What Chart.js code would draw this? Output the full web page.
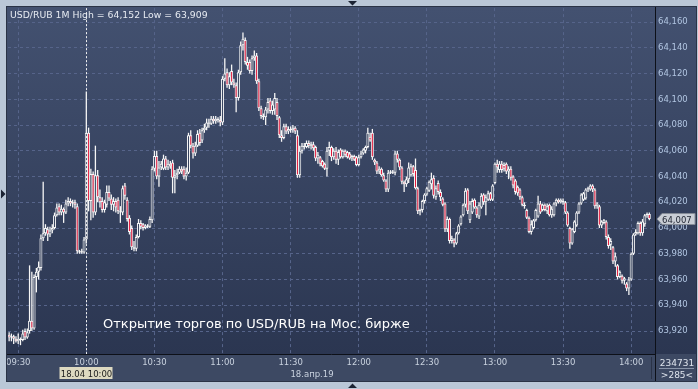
<!DOCTYPE html>
<html>
<head>
<meta charset="utf-8">
<title>USD/RUB 1M</title>
<script src="https://cdn.jsdelivr.net/npm/chart.js@4.4.1/dist/chart.umd.min.js"></script>
<style>
  html, body { margin: 0; padding: 0; background: #bac7d7; }
  canvas { display: block; }
</style>
</head>
<body>
<canvas id="rubChart" width="698" height="389"></canvas>
<script>
// one bar per minute, 09:26 .. 14:10
const firstBar = 9 * 60 + 26;
const barCount = 285;

const timeTicks = ['09:30', '10:00', '10:30', '11:00', '11:30', '12:00', '12:30', '13:00', '13:30', '14:00'];
const priceTicks = [63920, 63940, 63960, 63980, 64000, 64020, 64040, 64060, 64080, 64100, 64120, 64140, 64160];

// prices in thousandths of a rouble (64,007 = 64.007)
const opens = [
  63917,63915,63916,63914,63912,63914,63913,63920,63915,63920,
  63928,63922,63962,63966,63969,63992,63996,63999,63995,63998,
  64000,64010,64017,64012,64015,64012,64019,64021,64019,64020,
  64017,63982,63981,63981,63991,64074,64021,64042,64012,64041,
  64024,64021,64014,64018,64028,64023,64018,64021,64022,64013,
  64012,64033,64022,64008,64000,63985,63984,63993,64004,64003,
  64000,64002,64001,64006,64046,64056,64040,64047,64046,64054,
  64047,64050,64051,64039,64041,64043,64046,64046,64040,64043,
  64072,64064,64058,64064,64074,64068,64076,64078,64082,64081,
  64085,64083,64085,64084,64082,64116,64121,64111,64122,64113,
  64111,64101,64121,64142,64146,64129,64129,64122,64132,64134,
  64114,64093,64087,64086,64092,64099,64091,64092,64098,64086,
  64072,64070,64079,64075,64077,64076,64078,64072,64041,64060,
  64064,64063,64066,64064,64065,64063,64054,64055,64052,64050,
  64046,64060,64063,64055,64060,64053,64061,64055,64060,64059,
  64058,64054,64056,64055,64049,64055,64058,64060,64063,64071,
  64074,64053,64051,64044,64046,64041,64037,64030,64043,64044,
  64043,64058,64053,64047,64036,64034,64038,64041,64048,64045,
  64031,64013,64014,64021,64026,64029,64034,64039,64024,64035,
  64028,64023,64019,63999,64007,63990,63991,63988,63996,64003,
  64010,64018,64030,64006,64012,64022,64016,64009,64016,64026,
  64020,64022,64027,64022,64035,64050,64045,64050,64049,64050,
  64044,64046,64040,64037,64032,64030,64024,64018,64014,64008,
  63997,64000,64006,64009,64019,64014,64018,64013,64018,64010,
  64010,64019,64022,64020,64020,64020,64012,64000,63988,63997,
  64002,64012,64019,64022,64023,64030,64030,64033,64030,64017,
  64017,64002,64004,64005,63993,63987,63985,63974,63971,63962,
  63963,63959,63957,63953,63960,63980,63995,63996,64004,63996,
  64003,64010,64011
];
const highs = [
  63919,63918,63917,63916,63918,63915,63921,63922,63922,63971,
  63966,63964,63969,63974,63995,64036,64003,64001,64001,64003,
  64012,64019,64019,64018,64016,64022,64024,64023,64022,64022,
  64019,63983,63984,63993,64106,64078,64046,64044,64064,64045,
  64030,64024,64022,64033,64033,64026,64024,64023,64024,64017,
  64033,64035,64024,64010,64002,63990,63995,64007,64006,64004,
  64003,64003,64009,64048,64060,64060,64052,64052,64057,64056,
  64053,64052,64053,64045,64046,64048,64048,64048,64047,64074,
  64076,64066,64067,64076,64077,64078,64081,64085,64085,64087,
  64087,64087,64086,64087,64118,64132,64124,64121,64127,64116,
  64113,64123,64145,64152,64148,64133,64131,64134,64138,64136,
  64116,64095,64089,64094,64101,64101,64099,64105,64101,64087,
  64076,64081,64081,64079,64079,64080,64079,64076,64064,64066,
  64066,64068,64068,64067,64067,64064,64059,64056,64053,64051,
  64063,64067,64064,64062,64063,64061,64062,64061,64061,64060,
  64059,64057,64057,64056,64057,64060,64062,64064,64078,64074,
  64077,64054,64052,64048,64047,64043,64038,64045,64045,64045,
  64060,64060,64054,64048,64037,64040,64051,64050,64049,64054,
  64032,64015,64022,64027,64032,64037,64043,64041,64033,64037,
  64030,64024,64020,64009,64008,63994,63992,63997,64003,64010,
  64019,64031,64031,64021,64023,64023,64017,64020,64027,64027,
  64026,64029,64028,64034,64051,64053,64052,64052,64051,64051,
  64048,64048,64041,64038,64033,64031,64025,64020,64015,64009,
  64006,64007,64015,64025,64021,64019,64019,64019,64019,64017,
  64020,64023,64023,64023,64023,64021,64013,64001,64000,64006,
  64013,64020,64027,64028,64031,64032,64034,64034,64031,64020,
  64018,64006,64007,64006,63995,63992,63986,63981,63972,63967,
  63964,63962,63958,63962,63981,63996,63999,64005,64005,64007,
  64011,64012,64012
];
const lows = [
  63912,63912,63910,63911,63910,63909,63912,63913,63914,63918,
  63920,63921,63950,63960,63967,63990,63994,63990,63993,63996,
  63999,64009,64010,64010,64004,64011,64017,64017,64016,64015,
  63980,63980,63980,63980,63988,64013,64006,64008,64010,64020,
  64016,64012,64012,64016,64021,64014,64013,64012,64011,64004,
  64010,64022,64005,63995,63983,63982,63982,63992,63999,63998,
  63999,64000,64000,64004,64044,64038,64032,64045,64045,64045,
  64045,64046,64027,64027,64038,64042,64042,64038,64037,64042,
  64062,64054,64056,64063,64064,64066,64074,64076,64078,64080,
  64081,64081,64082,64079,64080,64114,64109,64108,64111,64109,
  64090,64099,64119,64138,64127,64123,64120,64119,64130,64112,
  64091,64085,64084,64080,64089,64089,64088,64088,64084,64070,
  64067,64069,64073,64073,64074,64074,64073,64039,64039,64058,
  64061,64062,64062,64061,64060,64052,64050,64048,64047,64045,
  64040,64056,64052,64053,64050,64049,64054,64054,64055,64054,
  64053,64052,64052,64048,64048,64054,64057,64058,64062,64067,
  64053,64049,64042,64042,64040,64036,64028,64028,64042,64042,
  64041,64051,64045,64034,64028,64032,64035,64040,64040,64030,
  64011,64010,64012,64019,64025,64028,64030,64023,64022,64026,
  64021,64017,63997,63997,63988,63988,63985,63987,63995,64002,
  64009,64016,64011,64004,64011,64015,64008,64007,64015,64018,
  64010,64021,64021,64021,64034,64043,64043,64043,64044,64042,
  64038,64037,64031,64026,64025,64022,64017,64015,64007,63996,
  63995,63999,64005,64008,64011,64013,64013,64011,64009,64008,
  64009,64017,64019,64019,64018,64011,64001,63984,63987,63996,
  64001,64011,64018,64021,64022,64028,64029,64028,64015,64015,
  64000,64000,64003,63991,63984,63983,63972,63970,63960,63961,
  63957,63956,63951,63948,63959,63979,63994,63995,63994,63994,
  64001,64008,64006
];
const closes = [
  63915,63916,63914,63912,63914,63913,63918,63915,63919,63928,
  63922,63962,63966,63970,63992,63996,64000,63995,63998,64000,
  64010,64016,64012,64015,64012,64019,64021,64019,64020,64018,
  63982,63981,63982,63991,64074,64021,64042,64012,64041,64024,
  64020,64014,64020,64028,64023,64018,64021,64016,64013,64012,
  64031,64025,64007,63997,63985,63984,63993,64004,64001,64000,
  64002,64001,64007,64046,64056,64040,64047,64050,64054,64047,
  64050,64048,64039,64041,64043,64046,64044,64040,64043,64072,
  64064,64058,64064,64073,64066,64076,64078,64082,64081,64085,
  64083,64085,64084,64082,64116,64120,64111,64118,64113,64111,
  64101,64121,64142,64147,64129,64126,64122,64132,64134,64114,
  64093,64087,64086,64092,64098,64091,64096,64101,64087,64072,
  64070,64079,64075,64077,64076,64078,64075,64041,64060,64064,
  64063,64066,64064,64065,64062,64054,64057,64050,64048,64046,
  64060,64063,64055,64060,64053,64059,64055,64060,64057,64055,
  64054,64056,64053,64049,64055,64058,64061,64063,64074,64068,
  64055,64051,64044,64046,64041,64037,64030,64043,64044,64043,
  64058,64053,64047,64036,64034,64038,64047,64048,64042,64031,
  64013,64014,64021,64026,64031,64036,64038,64025,64031,64028,
  64024,64018,63999,64007,63990,63992,63988,63996,64002,64009,
  64018,64029,64013,64019,64021,64016,64010,64018,64025,64020,
  64024,64027,64022,64033,64050,64047,64050,64045,64046,64044,
  64046,64039,64033,64028,64027,64024,64018,64017,64008,63997,
  64003,64006,64014,64019,64012,64018,64014,64017,64010,64015,
  64019,64022,64020,64022,64021,64012,64002,63988,63999,64005,
  64012,64019,64026,64027,64030,64031,64033,64030,64017,64019,
  64002,64005,64006,63993,63986,63990,63974,63978,63962,63966,
  63959,63961,63953,63960,63980,63995,63997,64004,63996,64005,
  64010,64011,64007
];

const lastPrice = 64007;
const cursorTime = '10:00';
const cursorLabel = '18.04 10:00';
const dateLabel = '18.апр.19';
const titleText = 'USD/RUB 1M High = 64,152 Low = 63,909';
const noteText = 'Открытие торгов по USD/RUB на Мос. бирже';
const barTotal = '234731';
const barsShown = '>285<';

const categories = [];
for (let i = 0; i < barCount; i++) {
    const t = firstBar + i;
    categories.push(String(Math.floor(t / 60)).padStart(2, '0') + ':' + String(t % 60).padStart(2, '0'));
}

const FRAME = '#bac7d7';
const CANDLE_EDGE = '#f6f6f6';
const smallFont = '8.5px "DejaVu Sans"';

function fmt(v) {
    return v.toLocaleString('en-US');
}

const terminalFrame = {
    id: 'terminalFrame',
    beforeDraw(chart) {
        const { ctx, chartArea: a } = chart;
        const x = chart.scales.x, y = chart.scales.y;
        ctx.save();
        ctx.fillStyle = FRAME;
        ctx.fillRect(0, 0, chart.width, chart.height);

        const g = ctx.createLinearGradient(0, a.top, 0, a.bottom);
        g.addColorStop(0, '#435170');
        g.addColorStop(1, '#2b3651');
        ctx.fillStyle = g;
        ctx.fillRect(7, 7, 689, a.bottom - 7);
        ctx.fillStyle = '#3d4963';
        ctx.fillRect(7, a.bottom, 689, 381 - a.bottom);

        // dashed grid
        ctx.strokeStyle = '#56648a';
        ctx.lineWidth = 1;
        ctx.setLineDash([3, 3]);
        priceTicks.forEach(v => {
            const py = Math.floor(y.getPixelForValue(v)) + 0.5;
            ctx.beginPath();
            ctx.moveTo(a.left, py);
            ctx.lineTo(a.right, py);
            ctx.stroke();
        });
        timeTicks.forEach(t => {
            const px = Math.floor(x.getPixelForValue(categories.indexOf(t))) + 0.5;
            ctx.beginPath();
            ctx.moveTo(px, a.top);
            ctx.lineTo(px, a.bottom);
            ctx.stroke();
        });
        ctx.restore();
    },
    afterDraw(chart) {
        const { ctx, chartArea: a } = chart;
        const x = chart.scales.x, y = chart.scales.y;
        ctx.save();

        // cursor
        const cx = Math.floor(x.getPixelForValue(categories.indexOf(cursorTime))) + 0.5;
        ctx.strokeStyle = '#eeeeee';
        ctx.setLineDash([2, 2]);
        ctx.beginPath();
        ctx.moveTo(cx, a.top);
        ctx.lineTo(cx, a.bottom);
        ctx.stroke();
        ctx.setLineDash([]);

        // axis lines
        ctx.strokeStyle = '#0d1018';
        ctx.beginPath();
        ctx.moveTo(7, a.bottom + 0.5);
        ctx.lineTo(a.right + 1, a.bottom + 0.5);
        ctx.moveTo(a.right + 0.5, 7);
        ctx.lineTo(a.right + 0.5, 381);
        ctx.stroke();
        ctx.strokeStyle = '#2a3347';
        ctx.beginPath();
        ctx.moveTo(651.5, a.bottom + 3);
        ctx.lineTo(651.5, 379);
        ctx.stroke();

        // texts
        ctx.font = '9.3px "DejaVu Sans"';
        ctx.textBaseline = 'alphabetic';
        ctx.textAlign = 'left';
        ctx.fillStyle = '#e6eaf1';
        ctx.fillText(titleText, 10, 17.5);

        ctx.font = '13px "DejaVu Sans"';
        ctx.fillStyle = '#ffffff';
        ctx.fillText(noteText, 103, 327.5);

        ctx.font = smallFont;
        ctx.textAlign = 'center';
        ctx.fillStyle = '#c9d2df';
        ctx.fillText(dateLabel, 312, 377);

        // cursor time box
        ctx.fillStyle = '#ddd9c1';
        ctx.fillRect(cx - 27, 367, 53, 12);
        ctx.fillStyle = '#1c1c1c';
        ctx.fillText(cursorLabel, cx, 376.5);

        // last price marker
        const py = y.getPixelForValue(lastPrice);
        ctx.beginPath();
        ctx.moveTo(657, py);
        ctx.lineTo(662, py - 5.5);
        ctx.lineTo(695, py - 5.5);
        ctx.lineTo(695, py + 5.5);
        ctx.lineTo(662, py + 5.5);
        ctx.closePath();
        ctx.fillStyle = '#c8cdd5';
        ctx.fill();
        ctx.strokeStyle = '#858c97';
        ctx.stroke();
        ctx.fillStyle = '#1d2330';
        ctx.textAlign = 'left';
        ctx.fillText(fmt(lastPrice), 662, py + 3.5);

        // bar counter
        ctx.textAlign = 'center';
        ctx.fillStyle = '#dfe5ee';
        ctx.font = '9px "DejaVu Sans"';
        ctx.fillText(barTotal, 677, 365.5);
        ctx.fillText(barsShown, 677, 378);
        ctx.strokeStyle = '#8793a8';
        ctx.beginPath();
        ctx.moveTo(659, 368.5);
        ctx.lineTo(694, 368.5);
        ctx.stroke();

        // outer frame (clips overflow)
        ctx.fillStyle = FRAME;
        ctx.fillRect(0, 0, chart.width, 7);
        ctx.fillRect(0, 381, chart.width, chart.height - 381);
        ctx.fillRect(0, 0, 7, chart.height);
        ctx.fillRect(696, 0, chart.width - 696, chart.height);
        ctx.strokeStyle = '#2a3346';
        ctx.strokeRect(6.5, 6.5, 690, 375);

        ctx.fillStyle = '#1b2333';
        ctx.beginPath();
        ctx.moveTo(348, 1); ctx.lineTo(357, 1); ctx.lineTo(352.5, 5.5); ctx.closePath();
        ctx.moveTo(348, 388); ctx.lineTo(357, 388); ctx.lineTo(352.5, 383.5); ctx.closePath();
        ctx.moveTo(1, 189.5); ctx.lineTo(1, 198.5); ctx.lineTo(5.5, 194); ctx.closePath();
        ctx.fill();
        ctx.restore();
    }
};

new Chart(document.getElementById('rubChart'), {
    type: 'bar',
    data: {
        labels: categories,
        datasets: [
            {
                label: 'wick',
                data: lows.map((l, i) => [l, highs[i]]),
                backgroundColor: CANDLE_EDGE,
                barThickness: 1.3,
                inflateAmount: 0,
                grouped: false,
                order: 2
            },
            {
                label: 'body',
                data: opens.map((o, i) => [o, closes[i]]),
                backgroundColor: ctx => closes[ctx.dataIndex] < opens[ctx.dataIndex] ? '#e3173a' : '#34405c',
                borderColor: CANDLE_EDGE,
                borderWidth: 1,
                borderSkipped: false,
                barThickness: 3,
                inflateAmount: 0,
                grouped: false,
                order: 1
            }
        ]
    },
    options: {
        responsive: false,
        animation: false,
        layout: { padding: { left: 8, top: 8, right: 2, bottom: 8 } },
        plugins: {
            legend: { display: false },
            tooltip: { enabled: false }
        },
        scales: {
            x: {
                type: 'category',
                offset: true,
                grid: { display: false, drawTicks: false },
                border: { display: false },
                afterBuildTicks: axis => {
                    axis.ticks = axis.ticks.filter(t => timeTicks.includes(categories[t.value]));
                },
                afterFit: axis => { axis.height = 27; },
                ticks: {
                    autoSkip: false,
                    maxRotation: 0,
                    padding: 4,
                    color: '#c9d2df',
                    font: { family: 'DejaVu Sans', size: 8.5 },
                    callback: function(value) { return this.getLabelForValue(value); }
                }
            },
            y: {
                position: 'right',
                min: 63902.14,
                max: 64170.87,
                grid: { display: false, drawTicks: false },
                border: { display: false },
                afterBuildTicks: axis => {
                    axis.ticks = priceTicks.map(v => ({ value: v }));
                },
                afterFit: axis => { axis.width = 41; },
                ticks: {
                    padding: 3,
                    color: '#b2c6e2',
                    font: { family: 'DejaVu Sans', size: 8.5 },
                    callback: v => fmt(v)
                }
            }
        }
    },
    plugins: [terminalFrame]
});
</script>
</body>
</html>
